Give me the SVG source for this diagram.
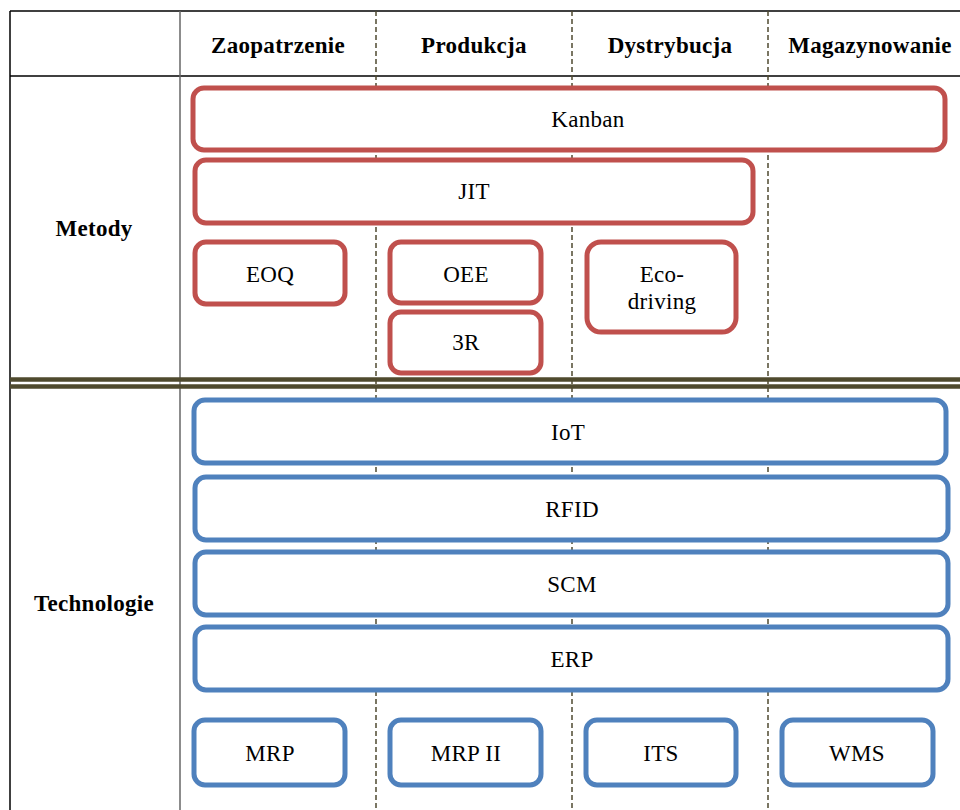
<svg xmlns="http://www.w3.org/2000/svg" width="960" height="810" viewBox="0 0 960 810">
<style>
text{font-family:"Liberation Serif","Times New Roman",serif;fill:#000;text-anchor:middle;letter-spacing:0.3px}
.h{font-weight:bold;font-size:23px}
.l{font-size:23px}
.red{fill:#fff;stroke:#c0504d;stroke-width:5}
.blue{fill:#fff;stroke:#4f81bd;stroke-width:5}
.dash{stroke:#4f4a30;stroke-width:1.5;stroke-dasharray:5 3;fill:none}
.grid{stroke:#000;stroke-width:1.5;fill:none}
.sep{stroke:#4f4a2e;stroke-width:4.5}
</style>
<rect width="960" height="810" fill="#fff"/>
<g id="grid">
<line class="grid" x1="10" y1="11" x2="960" y2="11"/>
<line class="grid" x1="10" y1="76" x2="960" y2="76"/>
<line class="grid" x1="10" y1="11" x2="10" y2="810"/>
<line x1="180" y1="11" x2="180" y2="810" stroke="#666" stroke-width="1.5"/>
<line class="dash" x1="376" y1="11" x2="376" y2="810"/>
<line class="dash" x1="572" y1="11" x2="572" y2="810"/>
<line class="dash" x1="768" y1="11" x2="768" y2="810"/>
<line class="sep" x1="10" y1="379.5" x2="960" y2="379.5"/>
<line class="sep" x1="10" y1="386.5" x2="960" y2="386.5"/>
</g>
<g id="headers">
<text class="h" x="278" y="53">Zaopatrzenie</text>
<text class="h" x="474" y="53">Produkcja</text>
<text class="h" x="670" y="53">Dystrybucja</text>
<text class="h" x="870" y="53">Magazynowanie</text>
<text class="h" x="94" y="236">Metody</text>
<text class="h" x="94" y="611">Technologie</text>
</g>
<g id="kanban"><rect class="red" x="193" y="88" width="752" height="62" rx="11"/><text class="l" x="588" y="127">Kanban</text></g>
<g id="jit"><rect class="red" x="195" y="160" width="558" height="63" rx="11"/><text class="l" x="474" y="199">JIT</text></g>
<g id="eoq"><rect class="red" x="195" y="242" width="150" height="62" rx="11"/><text class="l" x="270" y="282">EOQ</text></g>
<g id="oee"><rect class="red" x="390" y="242" width="151" height="61" rx="11"/><text class="l" x="466" y="282">OEE</text></g>
<g id="r3"><rect class="red" x="390" y="312" width="151" height="61" rx="11"/><text class="l" x="466" y="350">3R</text></g>
<g id="eco"><rect class="red" x="587" y="242" width="149" height="90" rx="14"/><text class="l" x="662" y="282">Eco-</text><text class="l" x="662" y="309">driving</text></g>
<g id="iot"><rect class="blue" x="194" y="400" width="752" height="63" rx="11"/><text class="l" x="568" y="440">IoT</text></g>
<g id="rfid"><rect class="blue" x="195" y="477" width="753" height="63" rx="11"/><text class="l" x="572" y="517">RFID</text></g>
<g id="scm"><rect class="blue" x="195" y="552" width="753" height="63" rx="11"/><text class="l" x="572" y="592">SCM</text></g>
<g id="erp"><rect class="blue" x="195" y="627" width="753" height="63" rx="11"/><text class="l" x="572" y="667">ERP</text></g>
<g id="mrp"><rect class="blue" x="194" y="720" width="151" height="65" rx="11"/><text class="l" x="270" y="761">MRP</text></g>
<g id="mrp2"><rect class="blue" x="390" y="720" width="151" height="65" rx="11"/><text class="l" x="466" y="761">MRP II</text></g>
<g id="its"><rect class="blue" x="586" y="720" width="150" height="65" rx="11"/><text class="l" x="661" y="761">ITS</text></g>
<g id="wms"><rect class="blue" x="782" y="720" width="151" height="65" rx="11"/><text class="l" x="857" y="761">WMS</text></g>
<g id="connectors"></g>
</svg>
